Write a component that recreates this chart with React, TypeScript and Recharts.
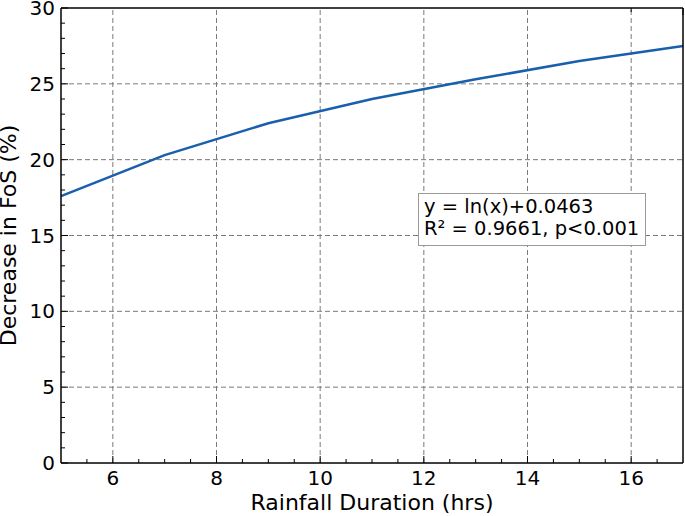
import { Line, LineChart, ReferenceLine, XAxis, YAxis } from "recharts";

const durations = [5, 7, 9, 11, 13, 15, 17];
const fosDecrease = [17.6, 20.3, 22.4, 24.0, 25.3, 26.5, 27.5];

const xMajor = [6, 8, 10, 12, 14, 16];
const xMinor = [5.5, 6.5, 7, 7.5, 8.5, 9, 9.5, 10.5, 11, 11.5, 12.5, 13, 13.5, 14.5, 15, 15.5, 16.5];
const yMajor = [0, 5, 10, 15, 20, 25, 30];
const yMinor = [1, 2, 3, 4, 6, 7, 8, 9, 11, 12, 13, 14, 16, 17, 18, 19, 21, 22, 23, 24, 26, 27, 28, 29];

const fitLines = ["y = ln(x)+0.0463", "R² = 0.9661, p<0.001"];

const data = durations.map((d, i) => ({ d, v: fosDecrease[i] }));
const xTicks = [...xMajor, ...xMinor].sort((a, b) => a - b);
const yTicks = [...yMajor, ...yMinor].sort((a, b) => a - b);

const FONT = "'DejaVu Sans', sans-serif";
const frame = { stroke: "#000", strokeWidth: 1.5 };

type Side = "bottom" | "top" | "left" | "right";

// inward ticks, long on majors, short on minors; labels only on bottom/left majors
const makeTick = (side: Side, majors: number[], labelled: boolean) => (props: any) => {
  const { x, y, payload } = props;
  const major = majors.includes(payload.value);
  const len = major ? 7 : 4;
  let x2 = x;
  let y2 = y;
  if (side === "bottom") y2 = y - len;
  if (side === "top") y2 = y + len;
  if (side === "left") x2 = x + len;
  if (side === "right") x2 = x - len;
  return (
    <g>
      <line x1={x} y1={y} x2={x2} y2={y2} stroke="#000" strokeWidth={1} />
      {labelled && major && side === "bottom" && (
        <text x={x} y={y + 8} dy="0.71em" textAnchor="middle" fontSize={20} fill="#000" fontFamily={FONT}>
          {payload.value}
        </text>
      )}
      {labelled && major && side === "left" && (
        <text x={x - 6} y={y} dy="0.355em" textAnchor="end" fontSize={20} fill="#000" fontFamily={FONT}>
          {payload.value}
        </text>
      )}
    </g>
  );
};

export default function App() {
  return (
    <div style={{ position: "absolute", left: 0, top: 0, width: 685, height: 516, background: "#fff" }}>
      <LineChart width={685} height={516} data={data} margin={{ top: 7, right: 1, bottom: 52, left: 60 }}>
        {xMajor.map((v) => (
          <ReferenceLine key={`gx${v}`} x={v} stroke="#7a7a7a" strokeDasharray="5 3" strokeWidth={1} />
        ))}
        {yMajor.slice(1, -1).map((v) => (
          <ReferenceLine key={`gy${v}`} y={v} stroke="#7a7a7a" strokeDasharray="5 3" strokeWidth={1} />
        ))}
        <XAxis
          dataKey="d"
          type="number"
          domain={[5, 17]}
          ticks={xTicks}
          interval={0}
          height={1}
          tickSize={0}
          tickMargin={0}
          axisLine={frame}
          tickLine={false}
          tick={makeTick("bottom", xMajor, true)}
          label={{ value: "Rainfall Duration (hrs)", position: "bottom", offset: 30, fontSize: 22, fill: "#000", fontFamily: FONT }}
        />
        <XAxis
          xAxisId="t"
          orientation="top"
          type="number"
          domain={[5, 17]}
          ticks={xTicks}
          interval={0}
          height={1}
          tickSize={0}
          tickMargin={0}
          axisLine={frame}
          tickLine={false}
          tick={makeTick("top", xMajor, false)}
        />
        <YAxis
          type="number"
          domain={[0, 30]}
          ticks={yTicks}
          interval={0}
          width={1}
          tickSize={0}
          tickMargin={0}
          axisLine={frame}
          tickLine={false}
          tick={makeTick("left", yMajor, true)}
          label={{
            value: "Decrease in FoS (%)",
            angle: -90,
            position: "insideLeft",
            offset: -52,
            fontSize: 22,
            fill: "#000",
            fontFamily: FONT,
            style: { textAnchor: "middle" },
          }}
        />
        <YAxis
          yAxisId="r"
          orientation="right"
          type="number"
          domain={[0, 30]}
          ticks={yTicks}
          interval={0}
          width={1}
          tickSize={0}
          tickMargin={0}
          axisLine={frame}
          tickLine={false}
          tick={makeTick("right", yMajor, false)}
        />
        <Line type="linear" dataKey="v" stroke="#1a5fae" strokeWidth={2.5} dot={false} isAnimationActive={false} />
      </LineChart>
      <div
        style={{
          position: "absolute",
          left: 418,
          top: 193,
          width: 228,
          height: 53,
          boxSizing: "border-box",
          border: "1px solid #9a9a9a",
          background: "#fff",
          fontFamily: FONT,
          fontSize: 19.5,
          lineHeight: "22px",
          padding: "2px 0 0 5px",
          color: "#000",
          whiteSpace: "nowrap",
        }}
      >
        {fitLines.map((t) => (
          <div key={t}>{t}</div>
        ))}
      </div>
    </div>
  );
}
